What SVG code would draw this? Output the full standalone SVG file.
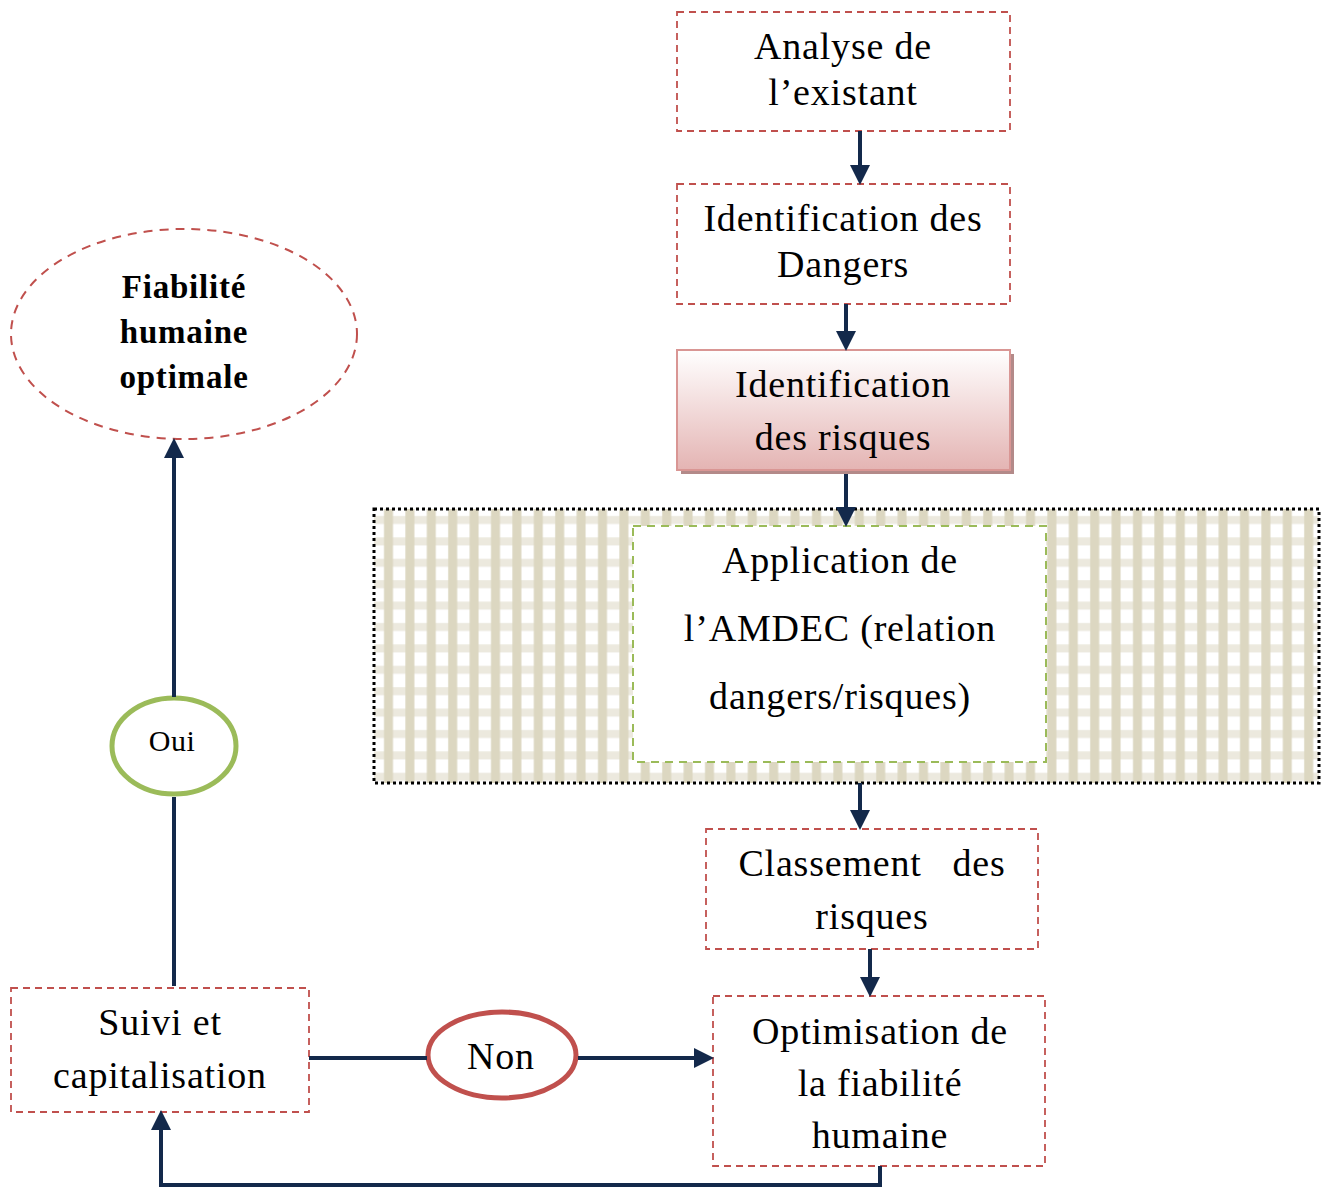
<svg xmlns="http://www.w3.org/2000/svg" width="1324" height="1187" viewBox="0 0 1324 1187">
<style>
.box{fill:#fff;stroke:#c0504d;stroke-width:1.8;stroke-dasharray:7,5}
.t{font-family:"Liberation Serif","DejaVu Serif",serif;font-size:38px;letter-spacing:0.8px;fill:#000;text-anchor:middle}
.b{font-weight:bold;font-size:33px;letter-spacing:0.8px}
.c{stroke:#13294b;stroke-width:4;fill:none}
</style>
<defs>
<marker id="ah" markerWidth="5" markerHeight="5" refX="4" refY="2.5" orient="auto" markerUnits="strokeWidth">
<path d="M0,0 L5,2.5 L0,5 Z" fill="#13294b"/>
</marker>
<linearGradient id="pink" x1="0" y1="0" x2="0" y2="1">
<stop offset="0" stop-color="#ffffff"/>
<stop offset="1" stop-color="#e4b4b3"/>
</linearGradient>
<pattern id="chk" x="374" y="509" width="21.4" height="21.4" patternUnits="userSpaceOnUse">
<rect width="21.4" height="21.4" fill="#ffffff"/>
<rect x="0" y="7" width="21.4" height="8" fill="#ece9de"/>
<rect x="10" y="0" width="9" height="21.4" fill="#dcd7c1"/>
</pattern>
</defs>

<g id="n-analyse">
<rect class="box" x="677" y="12" width="333" height="119"/>
<text class="t" x="843" y="59">Analyse de</text>
<text class="t" x="843" y="105">l’existant</text>
</g>

<g id="n-dangers">
<rect class="box" x="677" y="184" width="333" height="120"/>
<text class="t" x="843" y="231">Identification des</text>
<text class="t" x="843" y="277">Dangers</text>
</g>

<g id="n-risques">
<rect x="681" y="354" width="333" height="120" fill="#b38a89"/>
<rect x="677" y="350" width="333" height="120" fill="url(#pink)" stroke="#d99694" stroke-width="2"/>
<text class="t" x="843" y="397">Identification</text>
<text class="t" x="843" y="450">des risques</text>
</g>

<g id="n-amdec">
<rect x="374" y="509" width="945" height="274" fill="url(#chk)" stroke="#000" stroke-width="3" stroke-dasharray="3,3"/>
<rect x="633" y="526" width="413" height="236" fill="#fff" stroke="#9bbb59" stroke-width="2" stroke-dasharray="8,6"/>
<text class="t" x="840" y="573">Application de</text>
<text class="t" x="840" y="641">l’AMDEC (relation</text>
<text class="t" x="840" y="709">dangers/risques)</text>
</g>

<g id="n-classement">
<rect class="box" x="706" y="829" width="332" height="120"/>
<text class="t" x="872" y="876" xml:space="preserve">Classement   des</text>
<text class="t" x="872" y="929">risques</text>
</g>

<g id="n-optimisation">
<rect class="box" x="713" y="996" width="332" height="170"/>
<text class="t" x="880" y="1044">Optimisation de</text>
<text class="t" x="880" y="1096">la fiabilité</text>
<text class="t" x="880" y="1148">humaine</text>
</g>

<g id="n-suivi">
<rect class="box" x="11" y="988" width="298" height="124"/>
<text class="t" x="160" y="1035">Suivi et</text>
<text class="t" x="160" y="1088">capitalisation</text>
</g>

<g id="n-non">
<ellipse cx="502" cy="1055" rx="74" ry="43" fill="#fff" stroke="#c0504d" stroke-width="5"/>
<text class="t" x="501" y="1069">Non</text>
</g>

<g id="n-oui">
<ellipse cx="174" cy="746" rx="62" ry="48" fill="#fff" stroke="#9bbb59" stroke-width="5"/>
<text class="t" x="172" y="751" style="font-size:30px;letter-spacing:0.5px">Oui</text>
</g>

<g id="n-fiabilite">
<ellipse cx="184" cy="334" rx="173" ry="105" fill="#fff" stroke="#c0504d" stroke-width="2" stroke-dasharray="9,7"/>
<text class="t b" x="184" y="298">Fiabilité</text>
<text class="t b" x="184" y="343">humaine</text>
<text class="t b" x="184" y="388">optimale</text>
</g>

<g id="connectors">
<path class="c" d="M860,131 V181" marker-end="url(#ah)"/>
<path class="c" d="M846,304 V347" marker-end="url(#ah)"/>
<path class="c" d="M846,474 V523" marker-end="url(#ah)"/>
<path class="c" d="M860,783 V826" marker-end="url(#ah)"/>
<path class="c" d="M870,949 V993" marker-end="url(#ah)"/>
<path class="c" d="M880,1166 V1185 H161 V1114" marker-end="url(#ah)"/>
<path class="c" d="M309,1058 H427"/>
<path class="c" d="M578,1058 H710" marker-end="url(#ah)"/>
<path class="c" d="M174,986 V797"/>
<path class="c" d="M174,697 V442" marker-end="url(#ah)"/>
</g>
</svg>
